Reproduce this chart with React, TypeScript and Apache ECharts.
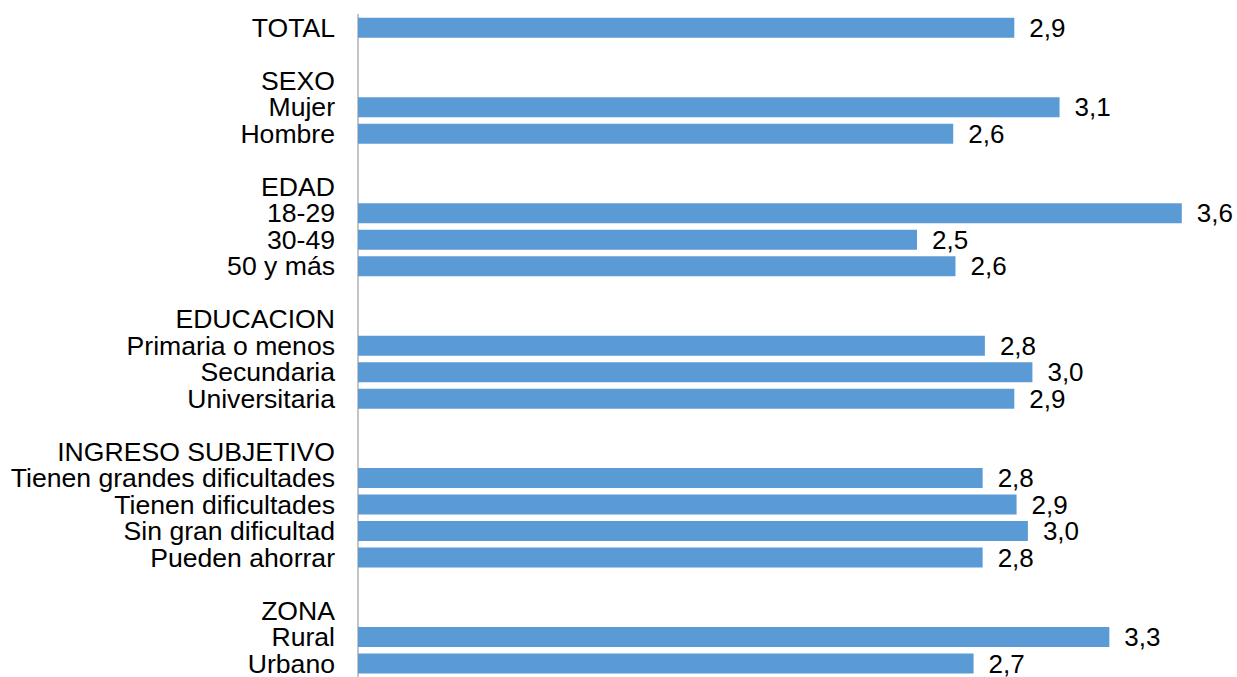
import React, { useEffect, useRef } from "react";
import * as echarts from "echarts";

const categories: string[] = [
  "TOTAL",
  "",
  "SEXO",
  "Mujer",
  "Hombre",
  "",
  "EDAD",
  "18-29",
  "30-49",
  "50 y más",
  "",
  "EDUCACION",
  "Primaria o menos",
  "Secundaria",
  "Universitaria",
  "",
  "INGRESO SUBJETIVO",
  "Tienen grandes dificultades",
  "Tienen dificultades",
  "Sin gran dificultad",
  "Pueden ahorrar",
  "",
  "ZONA",
  "Rural",
  "Urbano",
];

const values: (number | null)[] = [
  2.9,
  null,
  null,
  3.1,
  2.63,
  null,
  null,
  3.64,
  2.47,
  2.64,
  null,
  null,
  2.77,
  2.98,
  2.9,
  null,
  null,
  2.76,
  2.91,
  2.96,
  2.76,
  null,
  null,
  3.32,
  2.72,
];

const FONT = "'Liberation Sans', Arial, sans-serif";

export default function App() {
  const ref = useRef<HTMLDivElement>(null);
  useEffect(() => {
    if (!ref.current) return;
    const chart = echarts.init(ref.current, undefined, { renderer: "svg" });
    chart.setOption({
      animation: false,
      backgroundColor: "#ffffff",
      grid: { left: 358, top: 14.5, width: 860, height: 664.5 },
      xAxis: {
        type: "value",
        min: 0,
        max: 3.8,
        show: false,
      },
      yAxis: {
        type: "category",
        inverse: true,
        data: categories,
        axisLine: { show: true, lineStyle: { color: "#b0b0b0", width: 1.5 } },
        axisTick: { show: false },
        axisLabel: {
          color: "#000000",
          fontSize: 26.6,
          lineHeight: 22,
          fontFamily: FONT,
          margin: 23,
          interval: 0,
        },
      },
      series: [
        {
          type: "bar",
          data: values,
          barWidth: 20,
          itemStyle: { color: "#5B9BD5" },
          label: {
            show: true,
            position: "right",
            distance: 15,
            color: "#000000",
            fontSize: 26,
            lineHeight: 22,
            fontFamily: FONT,
            formatter: (p: any) =>
              p.value == null ? "" : (Math.round(p.value * 10) / 10).toFixed(1).replace(".", ","),
          },
        },
      ],
    });
    return () => chart.dispose();
  }, []);
  return (
    <div
      ref={ref}
      style={{ position: "fixed", left: 0, top: 0, width: 1237, height: 677, background: "#fff" }}
    />
  );
}
